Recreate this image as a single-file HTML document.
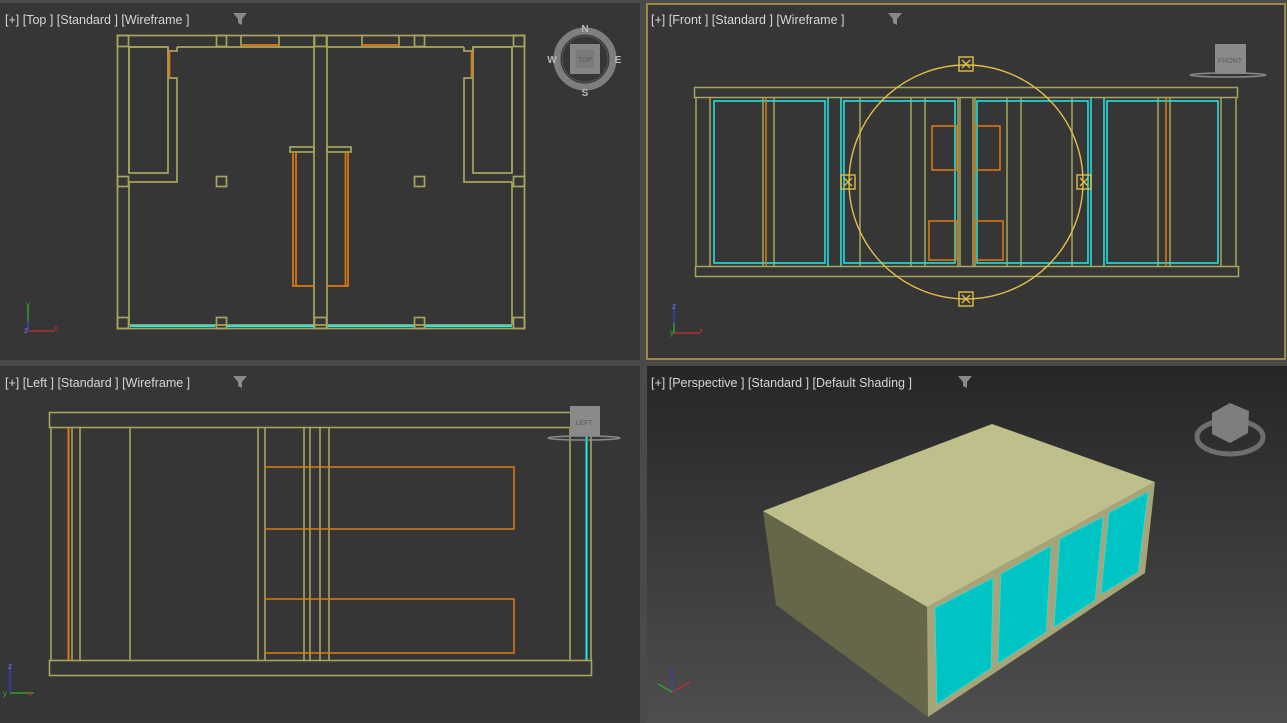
<!DOCTYPE html>
<html><head><meta charset="utf-8"><style>
html,body{margin:0;padding:0;background:#4b4b4b;width:1287px;height:723px;overflow:hidden}
svg{display:block}
text{font-family:"Liberation Sans",sans-serif}
</style></head><body>
<svg width="1287" height="723" viewBox="0 0 1287 723" xmlns="http://www.w3.org/2000/svg">
<defs>
<linearGradient id="pg" x1="0" y1="0" x2="0" y2="1">
<stop offset="0" stop-color="#262626"/><stop offset="1" stop-color="#4e4e4e"/>
</linearGradient>
</defs>
<rect x="0" y="0" width="1287" height="723" fill="#4a4a4a"/>
<rect x="0" y="3" width="640" height="357" fill="#363636"/>
<rect x="647" y="4" width="638" height="355" fill="#363636" stroke="#9c8a44" stroke-width="2"/>
<rect x="0" y="366" width="640" height="357" fill="#363636"/>
<rect x="647" y="366" width="640" height="357" fill="url(#pg)"/>

<g fill="#d6d6d6" font-size="12.5">
<text x="5" y="24">[+] [Top ] [Standard ] [Wireframe ]</text>
<text x="651" y="24">[+] [Front ] [Standard ] [Wireframe ]</text>
<text x="5" y="387">[+] [Left ] [Standard ] [Wireframe ]</text>
<text x="651" y="387">[+] [Perspective ] [Standard ] [Default Shading ]</text>
</g>
<g fill="#8a8a8a">
<path d="M233 13h14l-5 6v6l-4-2v-4z"/>
<path d="M888 13h14l-5 6v6l-4-2v-4z"/>
<path d="M233 376h14l-5 6v6l-4-2v-4z"/>
<path d="M958 376h14l-5 6v6l-4-2v-4z"/>
</g>

<!-- TOP VIEW -->
<g fill="none" stroke="#a8a45c" stroke-width="1.7">
<rect x="117.5" y="35.5" width="407" height="293"/>
<line x1="129" y1="47" x2="168" y2="47"/><line x1="177" y1="47" x2="314" y2="47"/>
<line x1="327" y1="47" x2="464" y2="47"/><line x1="473" y1="47" x2="512" y2="47"/>
<line x1="129" y1="47" x2="129" y2="173"/><line x1="129" y1="182" x2="129" y2="325"/>
<line x1="512" y1="47" x2="512" y2="173"/><line x1="512" y1="182" x2="512" y2="325"/>
<line x1="129" y1="325" x2="512" y2="325"/>
<rect x="117.5" y="35.5" width="11" height="11"/><rect x="216.5" y="35.5" width="10" height="11"/>
<rect x="314.5" y="35.5" width="12" height="11"/><rect x="414.5" y="35.5" width="10" height="11"/>
<rect x="513.5" y="35.5" width="11" height="11"/>
<rect x="117.5" y="176.5" width="11" height="10"/><rect x="216.5" y="176.5" width="10" height="10"/>
<rect x="414.5" y="176.5" width="10" height="10"/><rect x="513.5" y="176.5" width="11" height="10"/>
<rect x="117.5" y="317.5" width="11" height="11"/><rect x="216.5" y="317.5" width="10" height="11"/>
<rect x="314.5" y="317.5" width="12" height="11"/><rect x="414.5" y="317.5" width="10" height="11"/>
<rect x="513.5" y="317.5" width="11" height="11"/>
<line x1="314" y1="35" x2="314" y2="328"/><line x1="327" y1="35" x2="327" y2="328"/>
<rect x="129" y="47" width="39" height="126"/>
<path d="M168 47v4h9v-4M168 78h9v104h-48"/>
<rect x="473" y="47" width="39" height="126"/>
<path d="M473 47v4h-9v-4M473 78h-9v104h48"/>
<line x1="241" y1="35" x2="241" y2="47"/><line x1="279" y1="35" x2="279" y2="47"/>
<line x1="362" y1="35" x2="362" y2="47"/><line x1="399" y1="35" x2="399" y2="47"/>
<rect x="290" y="147" width="24" height="5"/><rect x="327" y="147" width="24" height="5"/>
</g>
<g fill="none" stroke="#e07a10" stroke-width="1.7">
<line x1="242" y1="45" x2="279" y2="45"/><line x1="362" y1="45" x2="399" y2="45"/>
<line x1="169.5" y1="51" x2="169.5" y2="78"/><line x1="471.5" y1="51" x2="471.5" y2="78"/>
<path d="M293 152v134h21M296 152v134"/>
<path d="M348 152v134h-21M345.5 152v134"/>
</g>
<g stroke="#1fe8e8" stroke-width="2">
<line x1="130" y1="326" x2="215" y2="326"/><line x1="227" y1="326" x2="314" y2="326"/>
<line x1="328" y1="326" x2="414" y2="326"/><line x1="425" y1="326" x2="512" y2="326"/>
</g>
<g>
<circle cx="585" cy="59" r="28" fill="none" stroke="#7e7e7e" stroke-width="7"/>
<circle cx="585" cy="59" r="23" fill="none" stroke="#555" stroke-width="1"/>
<rect x="570" y="44" width="30" height="30" fill="#858585"/>
<rect x="576" y="50" width="18" height="18" fill="#7a7a7a"/>
<text x="585" y="62" font-size="7" fill="#5a5a5a" text-anchor="middle">TOP</text>
<g fill="#b8b8b8" font-size="10" font-weight="bold" text-anchor="middle">
<text x="585" y="32">N</text><text x="585" y="96">S</text><text x="552" y="63">W</text><text x="618" y="63">E</text>
</g>
</g>
<g stroke-width="1.2"><line x1="28" y1="331" x2="28" y2="305" stroke="#2fae2f"/><line x1="28" y1="331" x2="55" y2="331" stroke="#c83030"/><line x1="28" y1="331" x2="28" y2="321" stroke="#3344cc"/></g>
<g font-size="8"><text x="26" y="307" fill="#2fae2f">y</text><text x="54" y="331" fill="#c83030">x</text><text x="24" y="333" fill="#7777ff">z</text></g>

<!-- FRONT VIEW -->
<g fill="none" stroke="#a8a45c" stroke-width="1.5">
<rect x="694.5" y="87.5" width="543" height="10"/>
<rect x="695.5" y="266.5" width="543" height="10"/>
<g>
<line x1="696" y1="97" x2="696" y2="266"/><line x1="710" y1="97" x2="710" y2="266"/>
<line x1="763" y1="97" x2="763" y2="266"/><line x1="774" y1="97" x2="774" y2="266"/>
<line x1="860" y1="97" x2="860" y2="266"/><line x1="911" y1="97" x2="911" y2="266"/>
<line x1="925" y1="97" x2="925" y2="266"/><line x1="958" y1="97" x2="958" y2="266"/>
<line x1="960" y1="97" x2="960" y2="266"/><line x1="973" y1="97" x2="973" y2="266"/>
<line x1="975" y1="97" x2="975" y2="266"/><line x1="1007" y1="97" x2="1007" y2="266"/>
<line x1="1021" y1="97" x2="1021" y2="266"/><line x1="1072" y1="97" x2="1072" y2="266"/>
<line x1="1158" y1="97" x2="1158" y2="266"/><line x1="1170" y1="97" x2="1170" y2="266"/>
<line x1="1221" y1="97" x2="1221" y2="266"/><line x1="1236" y1="97" x2="1236" y2="266"/>
</g>
</g>
<g fill="none" stroke="#1fe0e0" stroke-width="1.6">
<rect x="714" y="101" width="111" height="162"/><rect x="844" y="101" width="111" height="162"/>
<rect x="977" y="101" width="111" height="162"/><rect x="1107" y="101" width="111" height="162"/>
<line x1="828" y1="98" x2="828" y2="266"/><line x1="841" y1="98" x2="841" y2="266"/>
<line x1="1091" y1="98" x2="1091" y2="266"/><line x1="1104" y1="98" x2="1104" y2="266"/>
</g>
<g fill="none" stroke="#e07a10" stroke-width="1.5">
<line x1="766" y1="98" x2="766" y2="266"/><line x1="1166" y1="98" x2="1166" y2="266"/>
<rect x="932" y="126" width="25" height="44"/><rect x="975" y="126" width="25" height="44"/>
<rect x="929" y="221" width="27" height="39"/><rect x="975" y="221" width="28" height="39"/>
</g>
<g fill="none" stroke="#e0be4a" stroke-width="1.4">
<circle cx="966" cy="182" r="117"/>
<rect x="959" y="57" width="14" height="14"/><rect x="959" y="292" width="14" height="14"/>
<rect x="841" y="175" width="14" height="14"/><rect x="1077" y="175" width="14" height="14"/>
<path d="M962 60l8 8M970 60l-8 8M962 295l8 8M970 295l-8 8M844 178l8 8M852 178l-8 8M1080 178l8 8M1088 178l-8 8"/>
</g>
<rect x="1215" y="44" width="31" height="30" fill="#8a8a8a"/>
<text x="1230" y="63" font-size="7" fill="#5d5d5d" text-anchor="middle">FRONT</text>
<ellipse cx="1228" cy="75" rx="38" ry="2" fill="none" stroke="#888" stroke-width="1.5"/>
<g stroke-width="1.2"><line x1="674" y1="333" x2="674" y2="307" stroke="#3344cc"/><line x1="674" y1="333" x2="700" y2="333" stroke="#c83030"/><line x1="674" y1="333" x2="674" y2="323" stroke="#2fae2f"/></g>
<g font-size="8"><text x="672" y="309" fill="#7777ff">z</text><text x="699" y="333" fill="#c83030">x</text><text x="670" y="335" fill="#2fae2f">y</text></g>

<!-- LEFT VIEW -->
<g fill="none" stroke="#a8a45c" stroke-width="1.6">
<rect x="49.5" y="412.5" width="542" height="15"/>
<rect x="49.5" y="660.5" width="542" height="15"/>
<line x1="51" y1="428" x2="51" y2="660"/><line x1="72" y1="428" x2="72" y2="660"/>
<line x1="80" y1="428" x2="80" y2="660"/><line x1="130" y1="428" x2="130" y2="660"/>
<line x1="258" y1="428" x2="258" y2="660"/><line x1="265" y1="428" x2="265" y2="660"/>
<line x1="304" y1="428" x2="304" y2="660"/><line x1="310" y1="428" x2="310" y2="660"/>
<line x1="320" y1="428" x2="320" y2="660"/><line x1="329" y1="428" x2="329" y2="660"/>
<line x1="570" y1="428" x2="570" y2="660"/><line x1="591" y1="428" x2="591" y2="660"/>
</g>
<g fill="none" stroke="#e07a10" stroke-width="1.5">
<line x1="68.5" y1="428" x2="68.5" y2="660" stroke-width="2"/>
<path d="M265 467h249v62h-249M265 599h249v54h-249"/>
</g>
<line x1="586.5" y1="428" x2="586.5" y2="660" stroke="#1fe8e8" stroke-width="2"/>
<rect x="570" y="406" width="30" height="30" fill="#8a8a8a"/>
<text x="584" y="425" font-size="7" fill="#5d5d5d" text-anchor="middle">LEFT</text>
<ellipse cx="584" cy="438" rx="36" ry="2" fill="none" stroke="#888" stroke-width="1.5"/>
<g stroke-width="1.2"><line x1="10" y1="693" x2="10" y2="667" stroke="#3344cc"/><line x1="10" y1="693" x2="34" y2="693" stroke="#2fae2f"/></g>
<g font-size="8"><text x="8" y="669" fill="#7777ff">z</text><text x="3" y="696" fill="#2fae2f">y</text><text x="28" y="696" fill="#c83030">x</text></g>

<!-- PERSPECTIVE -->
<polygon points="763,511 992,424 1155,482 927,607" fill="#bfbf8c"/>
<polygon points="763,511 927,607 928,717 776,605" fill="#666648"/>
<polygon points="927,607 1155,482 1145,573 928,717" fill="#a8a47a"/>
<polygon points="935,608 993,578 991,668 937,704" fill="#00c4c4" stroke="#1ee" stroke-width="0.6"/>
<polygon points="1001,574 1051,546 1046,632 998,663" fill="#00c4c4" stroke="#1ee" stroke-width="0.6"/>
<polygon points="1060,539 1103,517 1095,600 1054,627" fill="#00c4c4" stroke="#1ee" stroke-width="0.6"/>
<polygon points="1109,513 1148,492 1138,572 1101,594" fill="#00c4c4" stroke="#1ee" stroke-width="0.6"/>
<ellipse cx="1230" cy="437" rx="33" ry="17" fill="none" stroke="#6e6e6e" stroke-width="5"/>
<polygon points="1212,413 1230,403 1249,411 1248,433 1230,443 1212,434" fill="#7e7e7e"/>
<g stroke-width="1.2"><line x1="672" y1="692" x2="672" y2="667" stroke="#3344cc"/><line x1="672" y1="692" x2="690" y2="682" stroke="#c83030"/><line x1="672" y1="692" x2="658" y2="684" stroke="#2fae2f"/></g>
</svg>
</body></html>
